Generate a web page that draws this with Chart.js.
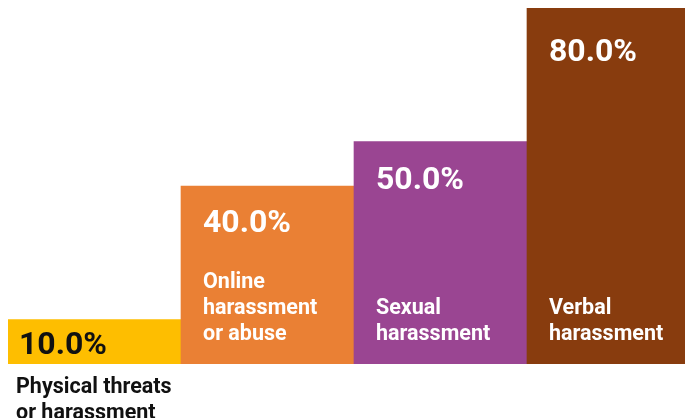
<!DOCTYPE html>
<html>
<head>
<meta charset="utf-8">
<script src="https://cdn.jsdelivr.net/npm/chart.js@4/dist/chart.umd.min.js"></script>
<style>
  html, body { margin: 0; padding: 0; background: #ffffff; overflow: hidden; }
  #wrap { width: 685px; height: 418px; overflow: hidden; position: relative; }
  canvas { display: block; }
</style>
</head>
<body>
<div id="wrap"><canvas id="chart" width="700" height="418"></canvas></div>
<script>
// Share of respondents reporting each type of harassment
const categories = [
  ['Physical threats', 'or harassment'],
  ['Online', 'harassment', 'or abuse'],
  ['Sexual', 'harassment'],
  ['Verbal', 'harassment']
];
const values = [10.0, 40.0, 50.0, 80.0];
const barColors = ['#FEBE00', '#EA8034', '#9A4592', '#883C0E'];

const FONT = 'Roboto, "Liberation Sans", sans-serif';

// Writes the percentage and the category name on each bar
const barLabels = {
  id: 'barLabels',
  afterDatasetsDraw(chart) {
    const ctx = chart.ctx;
    const meta = chart.getDatasetMeta(0);
    ctx.save();
    ctx.textAlign = 'left';
    ctx.textBaseline = 'alphabetic';
    meta.data.forEach((bar, i) => {
      const left = bar.x - bar.width / 2;
      const top = bar.y;
      const bottom = bar.base;
      const h = bottom - top;
      const valueText = values[i].toFixed(1) + '%';
      const lines = categories[i];
      if (h < 80) {
        // Short bar: value inside in dark text, name underneath the bar
        ctx.fillStyle = '#111111';
        ctx.font = 'bold 32px ' + FONT;
        ctx.fillText(valueText, left + 11, bottom - 10);
        ctx.font = 'bold 21.5px ' + FONT;
        lines.forEach((ln, k) => ctx.fillText(ln, left + 8, bottom + 29 + k * 26));
      } else {
        ctx.fillStyle = '#ffffff';
        ctx.font = 'bold 32px ' + FONT;
        ctx.fillText(valueText, left + 22, top + 16 + 0.04 * h + 22.5);
        ctx.font = 'bold 21.5px ' + FONT;
        const lastBase = bottom - 24;
        lines.forEach((ln, k) => {
          ctx.fillText(ln, left + 22, lastBase - (lines.length - 1 - k) * 26);
        });
      }
    });
    ctx.restore();
  }
};

new Chart(document.getElementById('chart'), {
  type: 'bar',
  data: {
    labels: categories.map(c => c.join(' ')),
    datasets: [{
      data: values,
      backgroundColor: barColors,
      borderWidth: 0,
      categoryPercentage: 1,
      barPercentage: 1
    }]
  },
  options: {
    responsive: false,
    animation: false,
    layout: { padding: { left: 8, right: 0, top: 8, bottom: 54 } },
    plugins: { legend: { display: false }, tooltip: { enabled: false } },
    scales: {
      x: { display: false },
      y: { display: false, min: 0, max: 80 }
    }
  },
  plugins: [barLabels]
});
</script>
</body>
</html>
